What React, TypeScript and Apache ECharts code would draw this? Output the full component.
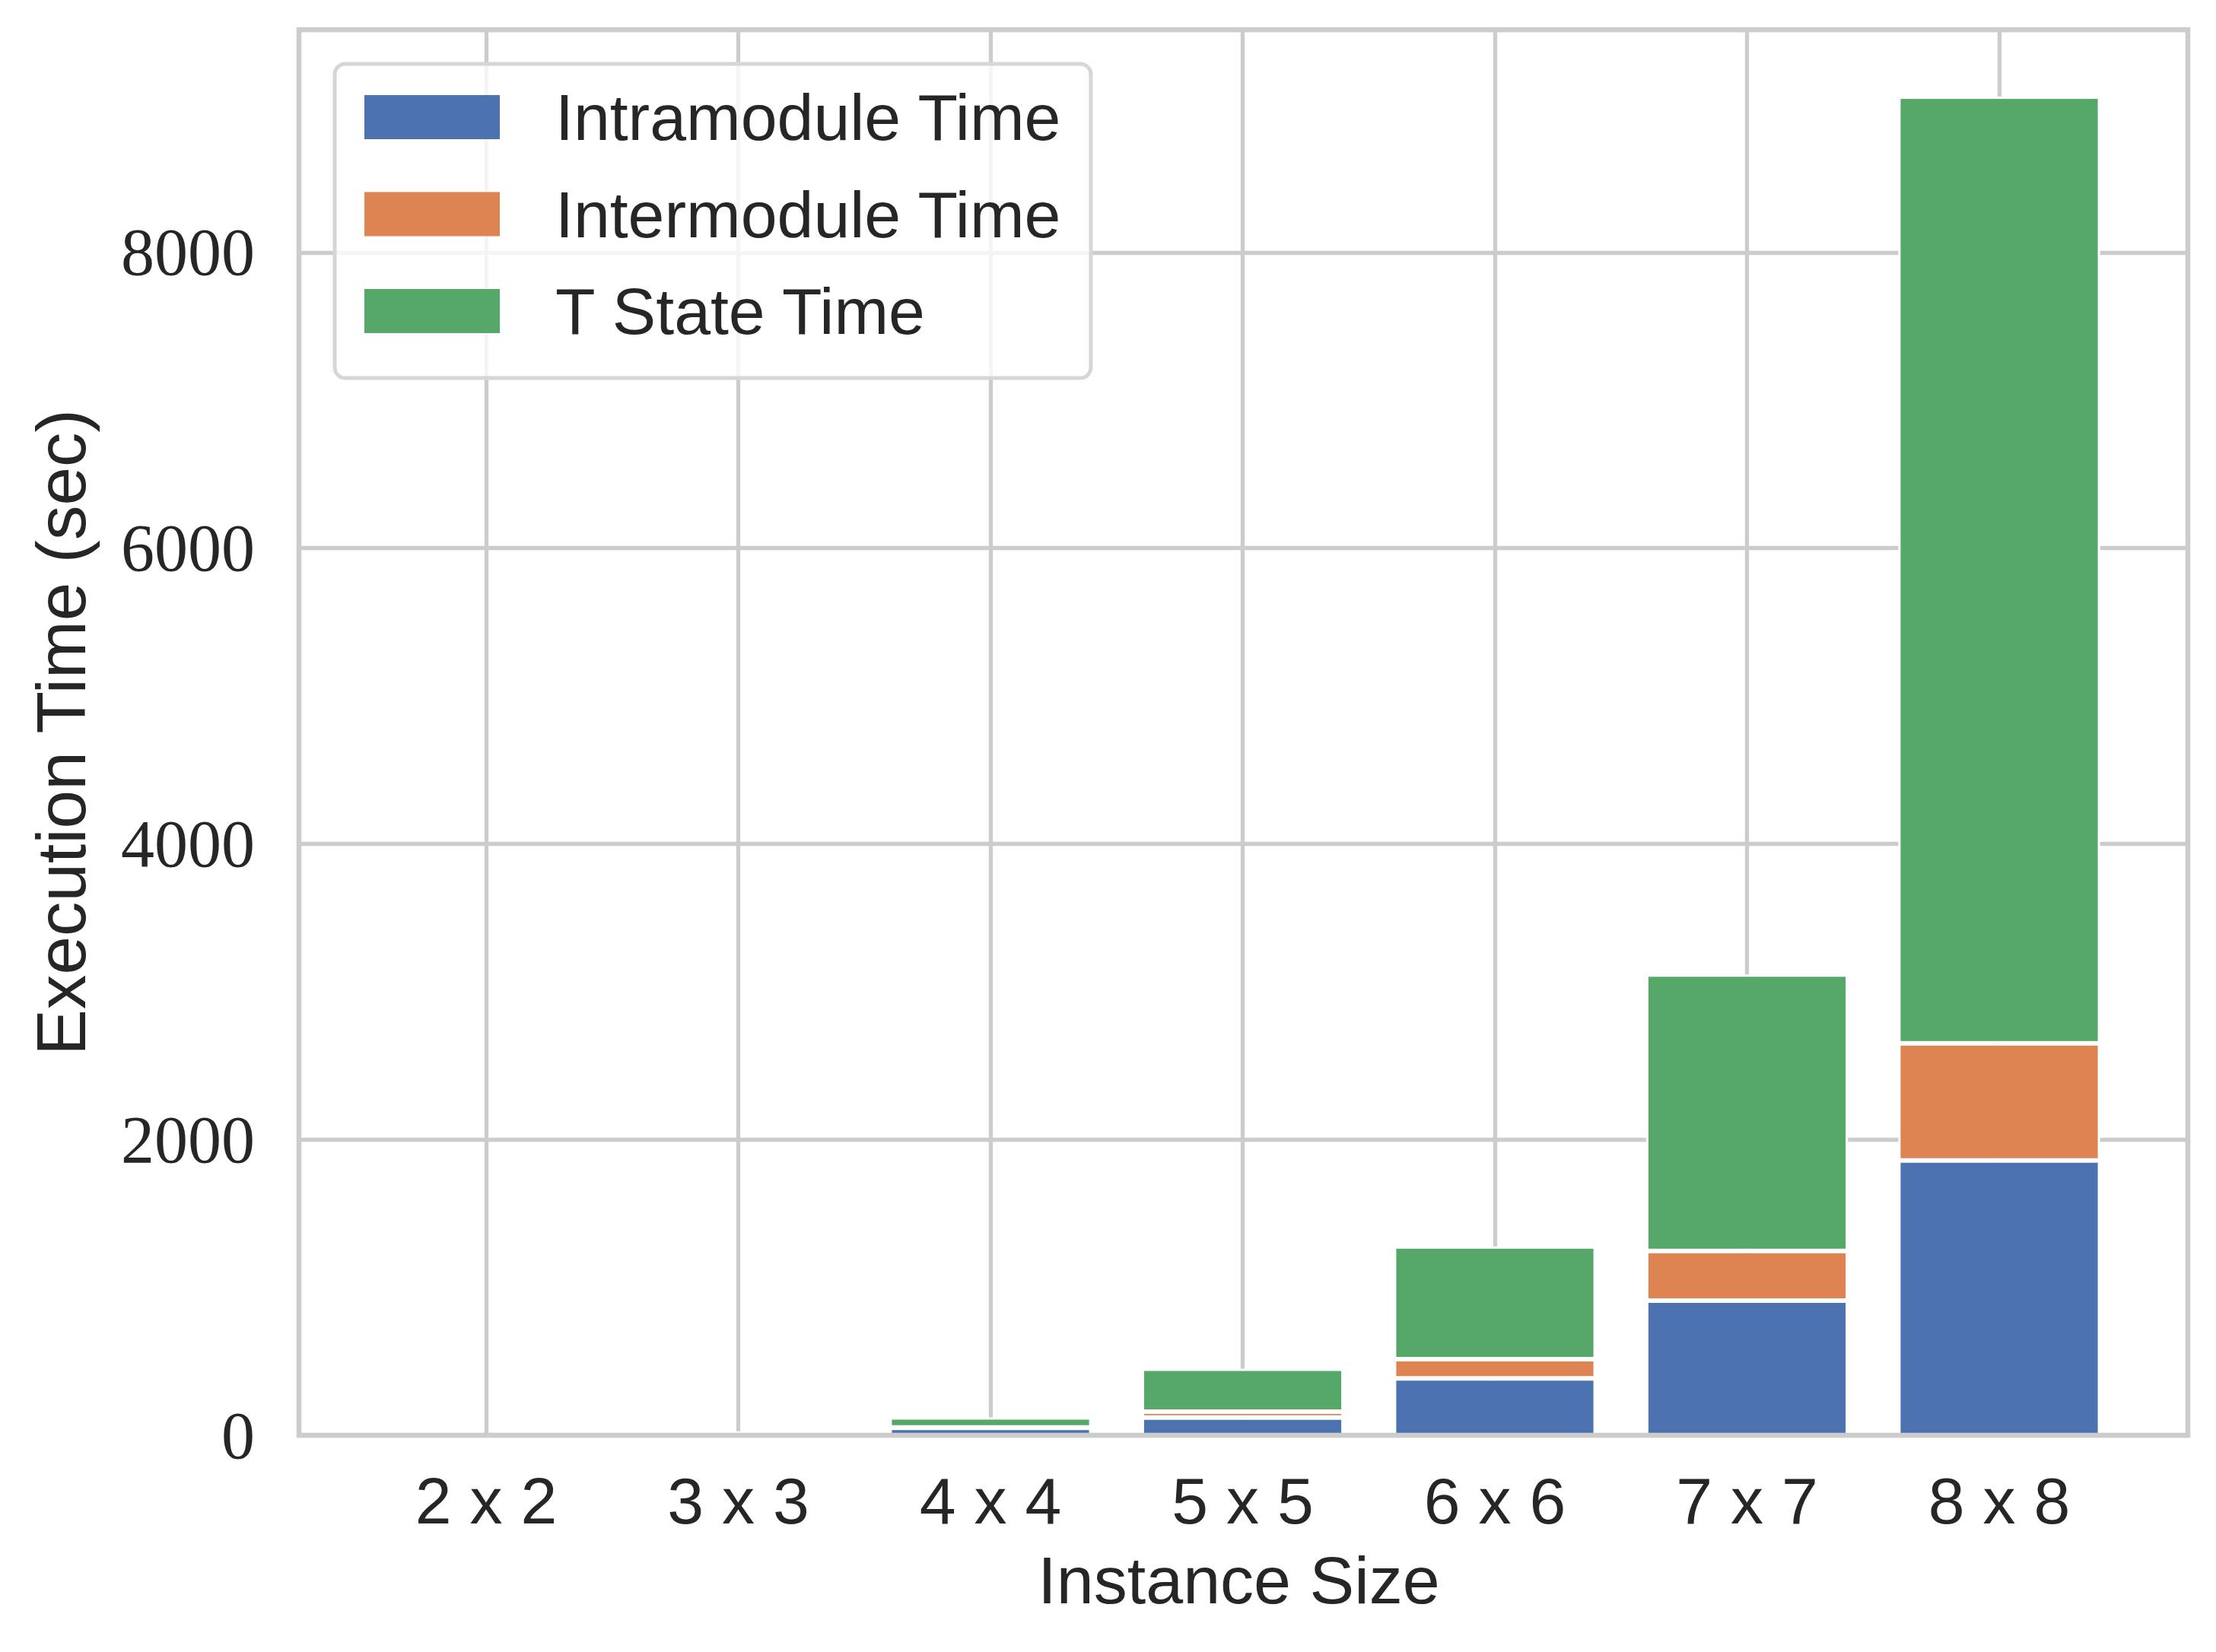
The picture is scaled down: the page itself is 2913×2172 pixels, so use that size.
import React, { useEffect, useRef } from "react";
import * as echarts from "echarts";

const categories = ["2 x 2", "3 x 3", "4 x 4", "5 x 5", "6 x 6", "7 x 7", "8 x 8"];
const intramoduleTime = [0.5, 10, 50, 120, 385, 911, 1858];
const intermoduleTime = [0.2, 3, 3, 40, 129, 335, 793];
const tStateTime = [0.5, 12, 68, 290, 763, 1870, 6402];
const yTicks = [0, 2000, 4000, 6000, 8000];
const yMax = 9506;

const SANS = "'Liberation Sans', Arial, sans-serif";
const SERIF = "'Liberation Serif', 'Times New Roman', serif";
const TEXT = "#262626";
const GRID = "#cccccc";

const FRAME = { left: 393, top: 39, width: 2483, height: 1848 };
const BAND = 331.5;
const FIRST = 639;

export default function App() {
  const ref = useRef<HTMLDivElement>(null);
  useEffect(() => {
    if (!ref.current) return;
    const chart = echarts.init(ref.current, null, { renderer: "svg" });
    const bar = (name: string, data: number[], color: string) => ({
      name,
      type: "bar",
      stack: "total",
      xAxisIndex: 1,
      yAxisIndex: 1,
      data,
      barWidth: BAND * 0.8,
      clip: false,
      itemStyle: { color, borderColor: "#ffffff", borderWidth: 3 },
      emphasis: { disabled: true },
    });
    chart.setOption({
      animation: false,
      backgroundColor: "#ffffff",
      grid: [
        { left: FRAME.left, top: FRAME.top, width: FRAME.width, height: FRAME.height, show: false },
        { left: FIRST, top: FRAME.top, width: BAND * (categories.length - 1), height: FRAME.height, show: false },
      ],
      xAxis: [
        { type: "value", gridIndex: 0, min: -0.745, max: 6.745, show: false },
        {
          type: "category",
          gridIndex: 1,
          data: categories,
          boundaryGap: false,
          axisLine: { show: false },
          axisTick: { show: false },
          axisLabel: { fontFamily: SANS, fontSize: 86, color: TEXT, margin: 43, lineHeight: 86 },
          splitLine: { show: true, lineStyle: { color: GRID, width: 5.3 } },
        },
      ],
      yAxis: [
        {
          type: "value",
          gridIndex: 0,
          min: 0,
          max: yMax,
          interval: 2000,
          axisLine: { show: false },
          axisTick: { show: false },
          axisLabel: {
            fontFamily: SERIF,
            fontSize: 88,
            color: TEXT,
            margin: 58,
            showMaxLabel: false,
            formatter: (v: number) => (yTicks.includes(v) ? String(v) : ""),
          },
          splitLine: { show: true, lineStyle: { color: GRID, width: 5.3 } },
        },
        { type: "value", gridIndex: 1, min: 0, max: yMax, show: false },
      ],
      legend: {
        orient: "vertical",
        left: 440,
        top: 84,
        padding: [27, 38, 45, 39],
        itemWidth: 178,
        itemHeight: 58,
        itemGap: 41.5,
        icon: "rect",
        backgroundColor: "rgba(255,255,255,0.8)",
        borderColor: "#d6d6d6",
        borderWidth: 5,
        borderRadius: 14,
        textStyle: { fontFamily: SANS, fontSize: 86, color: TEXT, lineHeight: 86, padding: [0, 0, 0, 68] },
        itemStyle: { borderColor: "#ffffff", borderWidth: 0 },
        data: ["Intramodule Time", "Intermodule Time", "T State Time"],
      },
      graphic: [
        {
          type: "rect",
          z: 50,
          silent: true,
          shape: { x: FRAME.left, y: FRAME.top, width: FRAME.width, height: FRAME.height },
          style: { fill: "none", stroke: GRID, lineWidth: 6.5 },
        },
        {
          type: "text",
          z: 50,
          x: FRAME.left + FRAME.width / 2 - 6,
          y: 2077,
          style: {
            text: "Instance Size",
            fontFamily: SANS,
            fontSize: 88,
            fill: TEXT,
            textAlign: "center",
            textVerticalAlign: "middle",
          },
        },
        {
          type: "text",
          z: 50,
          x: 80,
          y: FRAME.top + FRAME.height / 2,
          rotation: Math.PI / 2,
          style: {
            text: "Execution Time (sec)",
            fontFamily: SANS,
            fontSize: 91,
            fill: TEXT,
            textAlign: "center",
            textVerticalAlign: "middle",
          },
        },
      ],
      series: [
        bar("Intramodule Time", intramoduleTime, "#4c72b0"),
        bar("Intermodule Time", intermoduleTime, "#dd8452"),
        bar("T State Time", tStateTime, "#55a868"),
      ],
    });
    return () => chart.dispose();
  }, []);
  return (
    <div
      ref={ref}
      style={{ position: "absolute", left: 0, top: 0, width: 2913, height: 2172 }}
    />
  );
}
